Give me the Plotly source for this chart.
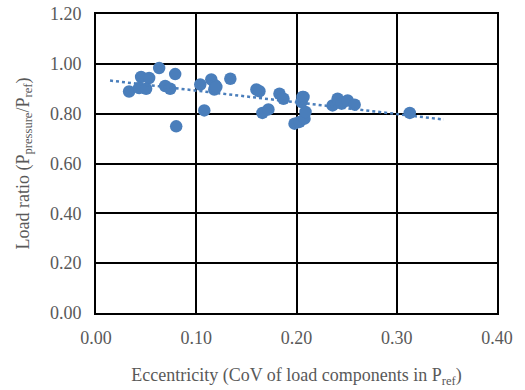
import numpy as np
import plotly.graph_objects as go

ecc = [0.033, 0.045, 0.053, 0.043, 0.050, 0.063, 0.079, 0.069, 0.074, 0.080,
       0.104, 0.108, 0.115, 0.119, 0.118, 0.120, 0.134,
       0.160, 0.163, 0.166, 0.172, 0.183, 0.187,
       0.198, 0.203, 0.208, 0.209, 0.205, 0.206, 0.207,
       0.236, 0.241, 0.245, 0.251, 0.258, 0.313]
ratio = [0.889, 0.947, 0.943, 0.903, 0.900, 0.983, 0.959, 0.911, 0.900, 0.749,
         0.917, 0.813, 0.937, 0.913, 0.897, 0.907, 0.940,
         0.897, 0.890, 0.803, 0.817, 0.880, 0.860,
         0.760, 0.767, 0.780, 0.807, 0.847, 0.867, 0.867,
         0.833, 0.860, 0.840, 0.853, 0.836, 0.803]
trend_range = [0.014, 0.347]

x_ticks = [0.0, 0.1, 0.2, 0.3, 0.4]
y_ticks = [0.0, 0.2, 0.4, 0.6, 0.8, 1.0, 1.2]

slope, intercept = np.polyfit(ecc, ratio, 1)
tx = np.linspace(trend_range[0], trend_range[1], 50)
ty = slope * tx + intercept

blue = "#4A7EBB"
grey = "#595959"
font = "Liberation Serif, Times New Roman, serif"

fig = go.Figure()
fig.add_trace(go.Scatter(x=ecc, y=ratio, mode="markers",
                         marker=dict(size=12.5, color=blue, line=dict(width=0)),
                         showlegend=False))
fig.add_trace(go.Scatter(x=tx, y=ty, mode="lines",
                         line=dict(color=blue, width=2.5, dash="dot"),
                         showlegend=False))

axis_common = dict(showline=True, linecolor="black", linewidth=2, mirror=True,
                   showgrid=True, gridcolor="black", gridwidth=2,
                   zeroline=False, ticks="", automargin=False,
                   tickfont=dict(family=font, size=18, color=grey))

fig.update_layout(
    width=525, height=390,
    margin=dict(l=96, r=28, t=14, b=77),
    paper_bgcolor="white", plot_bgcolor="white",
    font=dict(family=font, color=grey),
    xaxis=dict(range=[0, 0.4], tickvals=x_ticks,
               ticktext=[f"{v:.2f}" for v in x_ticks],
               ticklabelstandoff=7,
               title=dict(text="Eccentricity (CoV of load components in P<sub>ref</sub>)",
                          font=dict(family=font, size=18, color=grey), standoff=22),
               **axis_common),
    yaxis=dict(range=[0, 1.2], tickvals=y_ticks,
               ticktext=[f"{v:.2f}" for v in y_ticks],
               ticklabelstandoff=9,
               title=dict(text="Load ratio (P<sub>pressure</sub>/P<sub>ref</sub>)",
                          font=dict(family=font, size=18, color=grey), standoff=16),
               **axis_common),
)

fig.write_html("out.html", config={"displayModeBar": False},
               post_script="document.body.style.margin='0';document.body.style.padding='0';")
